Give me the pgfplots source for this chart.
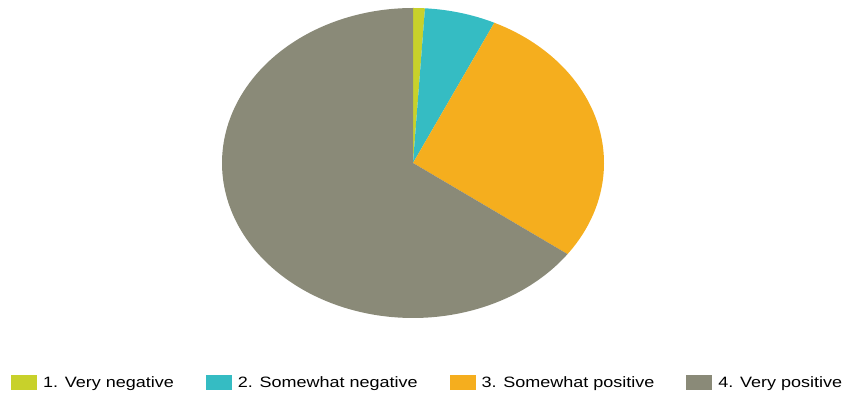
\documentclass[border=0pt]{standalone}
\usepackage{pgfplots}
\pgfplotsset{compat=1.18}
\usepackage{fontspec}
\setmainfont{Liberation Sans}
\newfontfamily\legfont[FakeStretch=1.2]{Liberation Sans}
\definecolor{cA}{HTML}{C8D12B}
\definecolor{cB}{HTML}{35BCC3}
\definecolor{cC}{HTML}{F5AE1E}
\definecolor{cD}{HTML}{8A8A78}
% percentages
\def\va{1}\def\vb{6}\def\vc{28}\def\vd{65}
\pgfmathsetmacro\aA{90}
\pgfmathsetmacro\aB{90-3.6*\va}
\pgfmathsetmacro\aC{\aB-3.6*\vb}
\pgfmathsetmacro\aD{\aC-3.6*\vc}
\pgfmathsetmacro\aE{\aD-3.6*\vd}
\begin{document}
\begin{tikzpicture}
\useasboundingbox (0,0) rectangle (846bp,394bp);
\begin{axis}[
  scale only axis, width=846bp, height=394bp,
  xmin=0, xmax=846, ymin=0, ymax=394,
  hide axis, clip=false,
  legend columns=4,
  legend style={draw=none, fill=none, inner sep=0pt, font=\legfont\fontsize{15bp}{18bp}\selectfont,
    at={(axis cs:11,11.5)}, anchor=west,
    /tikz/every odd column/.append style={column sep=4bp},
    /tikz/every even column/.append style={column sep=30bp}},
  legend image code/.code={\fill[#1,draw=none] (0bp,-7.5bp) rectangle (26bp,7.5bp);},
]
\addplot[fill=cA, draw=none, domain=\aA:\aB, samples=10, variable=\t]
  ({413+191*cos(t)},{231+155*sin(t)}) -- (axis cs:413,231) -- cycle;
\addlegendentry{1. Very negative}
\addplot[fill=cB, draw=none, domain=\aB:\aC, samples=30, variable=\t]
  ({413+191*cos(t)},{231+155*sin(t)}) -- (axis cs:413,231) -- cycle;
\addlegendentry{2. Somewhat negative}
\addplot[fill=cC, draw=none, domain=\aC:\aD, samples=80, variable=\t]
  ({413+191*cos(t)},{231+155*sin(t)}) -- (axis cs:413,231) -- cycle;
\addlegendentry{3. Somewhat positive}
\addplot[fill=cD, draw=none, domain=\aD:\aE, samples=160, variable=\t]
  ({413+191*cos(t)},{231+155*sin(t)}) -- (axis cs:413,231) -- cycle;
\addlegendentry{4. Very positive}
\end{axis}
\end{tikzpicture}
\end{document}
